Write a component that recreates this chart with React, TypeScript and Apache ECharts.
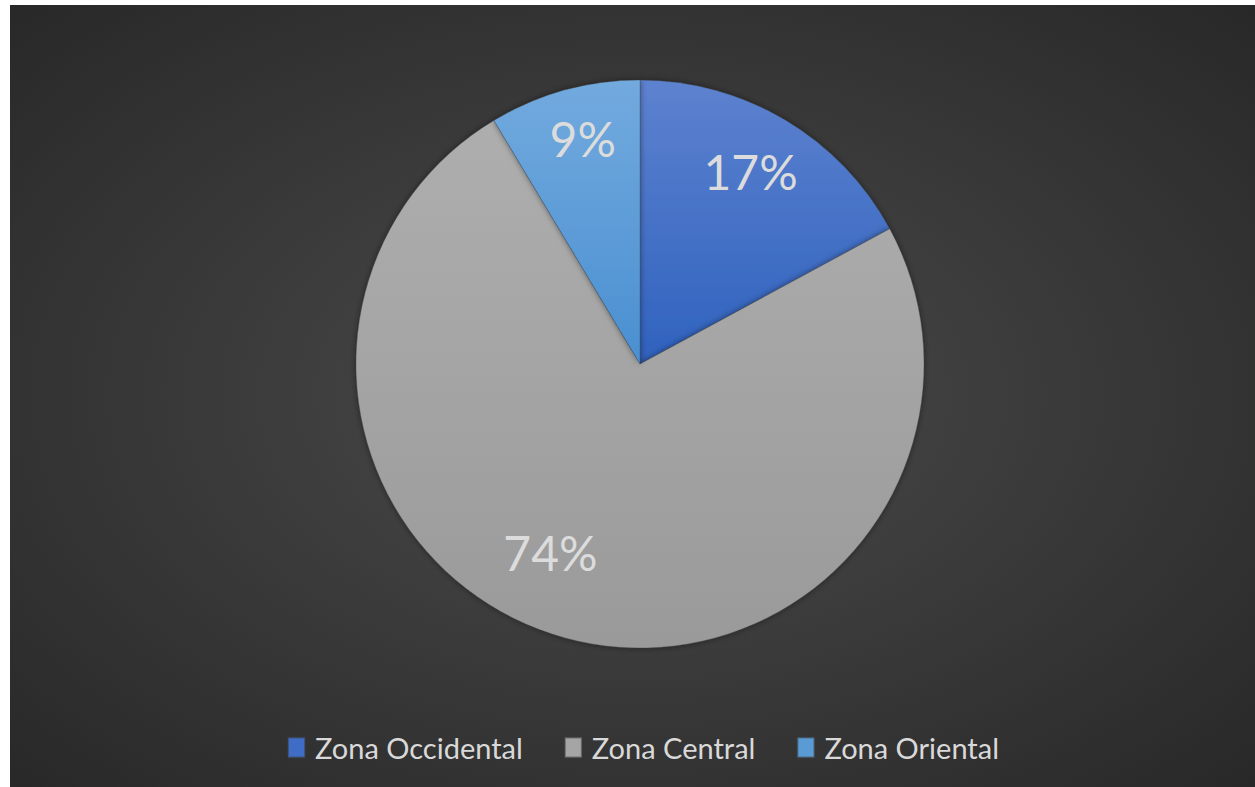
import React, { useEffect, useRef } from "react";
import * as echarts from "echarts";

const categories = ["Zona Occidental", "Zona Central", "Zona Oriental"];
const values = [17.1, 74.3, 8.6];
const topColors = ["#5d82cf", "#aeaeae", "#72aade"];
const bottomColors = ["#2f62be", "#9a9a9a", "#4a8fd1"];
const legendColors = ["#3f6dc6", "#a5a5a5", "#5b9bd5"];

export default function App() {
  const ref = useRef<HTMLDivElement>(null);
  useEffect(() => {
    if (!ref.current) return;
    const chart = echarts.init(ref.current, undefined, { renderer: "svg" });
    const data = categories.map((name, i) => ({
      name,
      value: values[i],
      itemStyle: {
        color: new echarts.graphic.LinearGradient(0, 0, 0, 1, [
          { offset: 0, color: topColors[i] },
          { offset: 1, color: bottomColors[i] },
        ]),
      },
    }));
    const labelShift = [
      { dx: -3, dy: -2 },
      { dx: -31, dy: -26 },
      { dx: 2, dy: -12 },
    ];
    chart.setOption({
      animation: false,
      backgroundColor: new echarts.graphic.RadialGradient(0.5, 0.5, 0.75, [
        { offset: 0, color: "#4b4b4b" },
        { offset: 1, color: "#262626" },
      ]),
      legend: {
        bottom: 20,
        left: 272,
        itemWidth: 17,
        itemHeight: 20,
        itemGap: 41,
        icon: "rect",
        data: categories.map((name, i) => ({ name, itemStyle: { color: legendColors[i] } })),
        textStyle: { color: "#d9d9d9", fontSize: 29, fontFamily: "Lato", padding: [0, 0, 0, 5] },
      },
      series: [
        {
          type: "pie",
          center: [630, 359],
          radius: [0, 284],
          startAngle: 90,
          clockwise: true,
          silent: true,
          label: { show: false },
          labelLine: { show: false },
          itemStyle: {
            borderColor: "rgba(60,60,60,0.5)",
            borderWidth: 0.6,
            shadowColor: "rgba(0,0,0,0.45)",
            shadowBlur: 6,
          },
          data,
        },
        {
          type: "pie",
          center: [630, 359],
          radius: [154, 284],
          startAngle: 90,
          clockwise: true,
          silent: true,
          legendHoverLink: false,
          itemStyle: { color: "transparent", borderWidth: 0 },
          label: {
            show: true,
            position: "inside",
            formatter: (p: any) => Math.round(p.value) + "%",
            color: "#dcdcdc",
            fontSize: 48,
            fontFamily: "Lato",
          },
          labelLayout: (p: any) => labelShift[p.dataIndex] || {},
          labelLine: { show: false },
          data: categories.map((name, i) => ({ name: name + " ", value: values[i] })),
        },
      ],
    });
    return () => chart.dispose();
  }, []);
  return (
    <div
      ref={ref}
      style={{ position: "absolute", left: 10, top: 5, width: 1245, height: 782 }}
    />
  );
}
